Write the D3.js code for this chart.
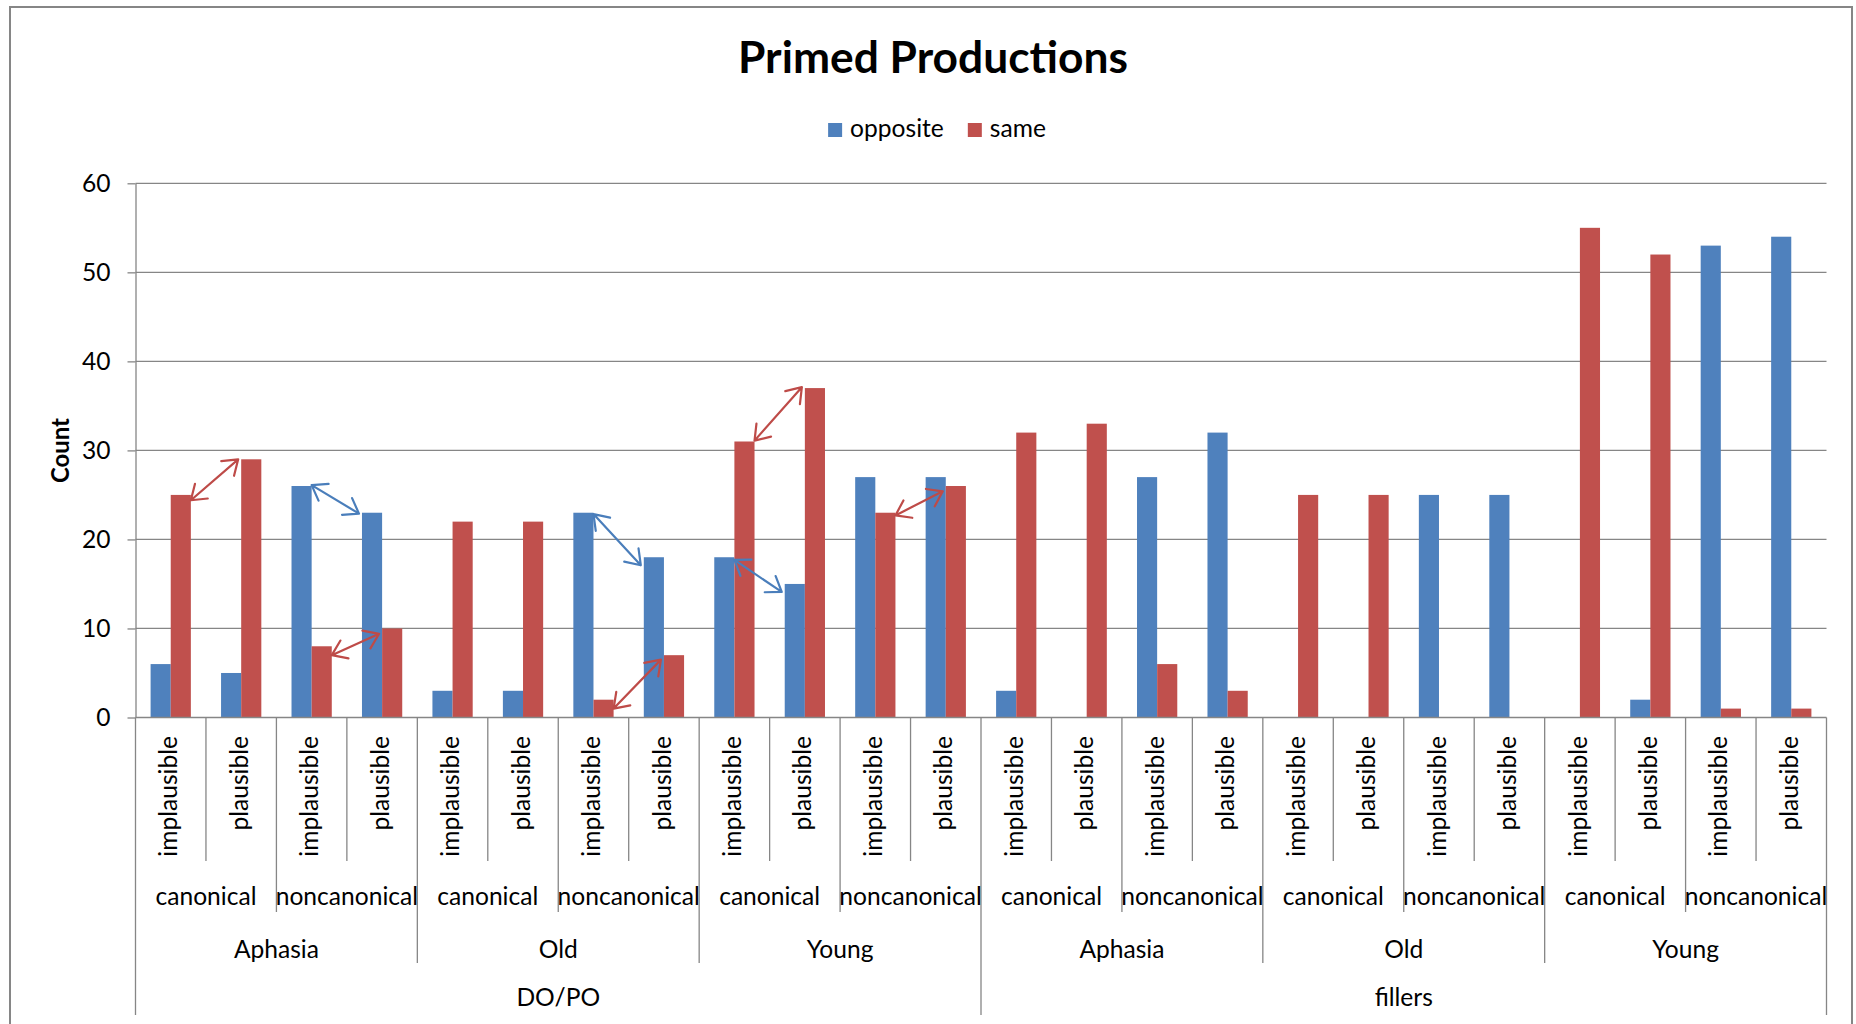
<!DOCTYPE html>
<html>
<head>
<meta charset="utf-8">
<script src="https://cdn.jsdelivr.net/npm/d3@7"></script>
<style>
  body { margin: 0; background: #fff; }
</style>
</head>
<body>
<div id="chart"></div>
<script>
// --- data ---
const seriesNames = ['opposite', 'same']
const seriesColors = ['#4F81BD', '#C0504D']
const arrowColors = { opposite: '#4A7EBB', same: '#BE4B48' }

const tasks = ['DO/PO', 'fillers']
const groups = ['Aphasia', 'Old', 'Young']
const orders = ['canonical', 'noncanonical']
const plausibility = ['implausible', 'plausible']

const opposite = [6, 5, 26, 23, 3, 3, 23, 18, 18, 15, 27, 27, 3, 0, 27, 32, 0, 0, 25, 25, 0, 2, 53, 54]
const same = [25, 29, 8, 10, 22, 22, 2, 7, 31, 37, 23, 26, 32, 33, 6, 3, 25, 25, 0, 0, 55, 52, 1, 1]

const yTicks = [0, 10, 20, 30, 40, 50, 60]

// hand drawn arrows between neighbouring bars (values where the ends sit)
const arrowSeries = ['same', 'opposite', 'same', 'opposite', 'same', 'same', 'opposite', 'same']
const arrowFrom = [0, 2, 2, 6, 6, 8, 8, 10]
const arrowTo = [1, 3, 3, 7, 7, 9, 9, 11]
const arrowFromVal = [24.4, 26.1, 7.0, 22.85, 1.0, 31.1, 17.7, 22.7]
const arrowToVal = [29.0, 22.9, 9.4, 17.1, 6.5, 37.1, 14.1, 25.4]

// --- build the category table ---
const categories = []
tasks.forEach((t) =>
  groups.forEach((g) =>
    orders.forEach((o) =>
      plausibility.forEach((p) => categories.push({ task: t, group: g, order: o, plaus: p }))
    )
  )
)
const values = { opposite, same }

const width = 1856,
  height = 1024
const FONT = "Lato, 'Open Sans', sans-serif"
const GRID = '#868686'

const svg = d3
  .select('#chart')
  .append('svg')
  .attr('width', width)
  .attr('height', height)
  .style('font-family', FONT)

// fit a font size so a sample string has a given width
function fitSize(str, weight, target) {
  const t = svg.append('text').style('font-size', '100px').style('font-weight', weight).text(str)
  const w = t.node().getComputedTextLength()
  t.remove()
  return (100 * target) / w
}
const labelSize = fitSize('canonical', 'normal', 101)
const titleSize = fitSize('Primed Productions', 'bold', 390)
const countSize = fitSize('Count', 'bold', 65)

// chart area border
svg
  .append('rect')
  .attr('x', 10)
  .attr('y', 7)
  .attr('width', 1842)
  .attr('height', 1060)
  .attr('fill', 'none')
  .attr('stroke', GRID)
  .attr('stroke-width', 2)

const plot = { left: 135.5, right: 1826.5, top: 183.3, bottom: 717.5 }

const y = d3.scaleLinear().domain([0, 60]).range([plot.bottom, plot.top])
const x0 = d3
  .scaleBand()
  .domain(d3.range(categories.length))
  .range([plot.left, plot.right])
  .padding(0)
const x1 = d3
  .scaleBand()
  .domain(seriesNames)
  .range([0, x0.bandwidth()])
  .paddingInner(0)
  .paddingOuter(0.75)

// gridlines
svg
  .append('g')
  .selectAll('line')
  .data(yTicks.filter((d) => d > 0))
  .join('line')
  .attr('x1', plot.left)
  .attr('x2', plot.right)
  .attr('y1', (d) => y(d))
  .attr('y2', (d) => y(d))
  .attr('stroke', GRID)
  .attr('stroke-width', 1.3)

// bars
seriesNames.forEach((s, si) => {
  svg
    .append('g')
    .selectAll('rect')
    .data(values[s])
    .join('rect')
    .attr('x', (d, i) => x0(i) + x1(s))
    .attr('y', (d) => y(d))
    .attr('width', x1.bandwidth())
    .attr('height', (d) => y(0) - y(d))
    .attr('fill', seriesColors[si])
})

// y axis
const yAxis = svg
  .append('g')
  .attr('transform', `translate(${plot.left},0)`)
  .call(d3.axisLeft(y).tickValues(yTicks).tickSize(8).tickSizeOuter(0).tickPadding(17))
yAxis.select('.domain').attr('stroke', GRID).attr('stroke-width', 1.3)
yAxis.selectAll('.tick line').attr('stroke', GRID).attr('stroke-width', 1.3)
yAxis
  .selectAll('.tick text')
  .attr('fill', '#000')
  .style('font-family', FONT)
  .style('font-size', labelSize + 'px')

// x axis line
svg
  .append('line')
  .attr('x1', plot.left)
  .attr('x2', plot.right)
  .attr('y1', y(0))
  .attr('y2', y(0))
  .attr('stroke', GRID)
  .attr('stroke-width', 1.3)

// multi-level category separators
const rowBottom = [861, 912, 963, 1015]
svg
  .append('g')
  .selectAll('line')
  .data(d3.range(categories.length + 1))
  .join('line')
  .attr('x1', (k) => plot.left + k * x0.bandwidth())
  .attr('x2', (k) => plot.left + k * x0.bandwidth())
  .attr('y1', y(0))
  .attr('y2', (k) => (k % 12 === 0 ? rowBottom[3] : k % 4 === 0 ? rowBottom[2] : k % 2 === 0 ? rowBottom[1] : rowBottom[0]))
  .attr('stroke', GRID)
  .attr('stroke-width', 1.3)

// level 1: rotated plausibility labels
svg
  .append('g')
  .selectAll('text')
  .data(categories)
  .join('text')
  .attr('transform', (d, i) => `translate(${x0(i) + x0.bandwidth() / 2 + labelSize * 0.27},736) rotate(-90)`)
  .attr('text-anchor', 'end')
  .style('font-size', labelSize + 'px')
  .text((d) => d.plaus)

// levels 2-4: spans of categories
function spanLabels(size, baseline, key) {
  const spans = []
  for (let i = 0; i < categories.length; i += size) spans.push({ i, label: categories[i][key] })
  svg
    .append('g')
    .selectAll('text')
    .data(spans)
    .join('text')
    .attr('x', (d) => x0(d.i) + (size * x0.bandwidth()) / 2)
    .attr('y', baseline)
    .attr('text-anchor', 'middle')
    .style('font-size', labelSize + 'px')
    .text((d) => d.label)
}
spanLabels(2, 905, 'order')
spanLabels(4, 958, 'group')
spanLabels(12, 1006, 'task')

// annotation arrows
function arrowPath(xa, ya, xb, yb) {
  const len = 17,
    spread = (35 * Math.PI) / 180
  const ang = Math.atan2(yb - ya, xb - xa)
  const head = (px, py, a) =>
    `M${px + len * Math.cos(a + spread)},${py + len * Math.sin(a + spread)}L${px},${py}L${
      px + len * Math.cos(a - spread)
    },${py + len * Math.sin(a - spread)}`
  return `M${xa},${ya}L${xb},${yb}` + head(xa, ya, ang) + head(xb, yb, ang + Math.PI)
}
svg
  .append('g')
  .selectAll('path')
  .data(arrowSeries.map((s, k) => ({ s, from: arrowFrom[k], to: arrowTo[k], v1: arrowFromVal[k], v2: arrowToVal[k] })))
  .join('path')
  .attr('d', (d) =>
    arrowPath(x0(d.from) + x1(d.s) + x1.bandwidth(), y(d.v1), x0(d.to) + x1(d.s) - 3, y(d.v2))
  )
  .attr('fill', 'none')
  .attr('stroke', (d) => arrowColors[d.s])
  .attr('stroke-width', 2.2)
  .attr('stroke-linecap', 'round')
  .attr('stroke-linejoin', 'round')

// title
svg
  .append('text')
  .attr('x', 933)
  .attr('y', 73)
  .attr('text-anchor', 'middle')
  .style('font-size', titleSize + 'px')
  .style('font-weight', 'bold')
  .text('Primed Productions')

// y axis title
svg
  .append('text')
  .attr('transform', 'translate(69,450.5) rotate(-90)')
  .attr('text-anchor', 'middle')
  .style('font-size', countSize + 'px')
  .style('font-weight', 'bold')
  .text('Count')

// legend, centred under the title
const legend = svg.append('g')
let lx = 0
seriesNames.forEach((s, si) => {
  const item = legend.append('g').attr('transform', `translate(${lx},0)`)
  item.append('rect').attr('x', 0).attr('y', 123).attr('width', 14).attr('height', 14).attr('fill', seriesColors[si])
  const t = item
    .append('text')
    .attr('x', 22)
    .attr('y', 137)
    .style('font-size', labelSize + 'px')
    .text(s)
  lx += 22 + t.node().getComputedTextLength() + 24
})
const legendWidth = lx - 24
legend.attr('transform', `translate(${937 - legendWidth / 2},0)`)
</script>
</body>
</html>
